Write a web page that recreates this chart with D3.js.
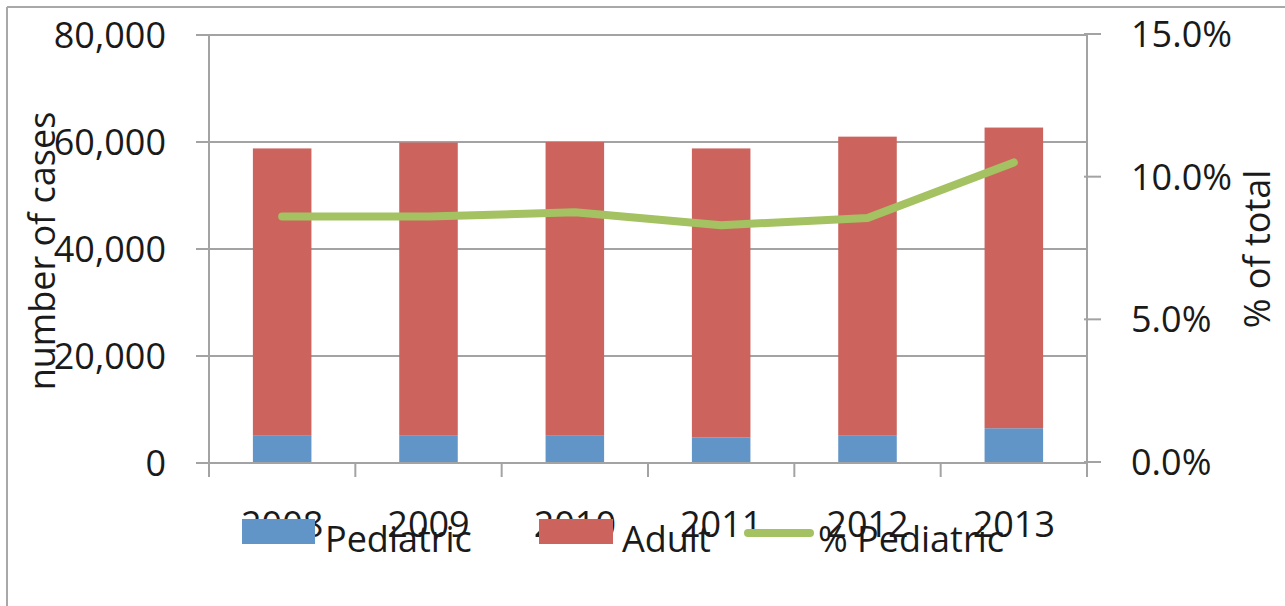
<!DOCTYPE html>
<html>
<head>
<meta charset="utf-8">
<script src="https://cdn.jsdelivr.net/npm/d3@7"></script>
<style>
  html, body { margin: 0; padding: 0; background: #fff; }
  svg { display: block; }
  text { font-family: "Open Sans", Lato, "DejaVu Sans", sans-serif; fill: #1a1a1a; }
</style>
</head>
<body>
<svg id="chart" width="1285" height="606"></svg>
<script>
// Case counts by year, split into pediatric and adult, plus pediatric share.
const years = ["2008", "2009", "2010", "2011", "2012", "2013"];
const pediatric = [5200, 5200, 5200, 4800, 5200, 6500];
const adult = [53600, 54700, 54800, 54000, 55800, 56200];
const pctPediatric = [8.6, 8.6, 8.75, 8.3, 8.55, 10.5];
const countTicks = [0, 20000, 40000, 60000, 80000];
const pctTicks = [0, 5, 10, 15];
const seriesNames = ["Pediatric", "Adult", "% Pediatric"];

const colors = { ped: "#6195C8", adult: "#CC645D", pct: "#A4C262", grid: "#a3a3a3" };
const fontSize = 36;

const svg = d3.select("#chart");

// frame lines along the top and left edge
svg.append("line").attr("x1", 7).attr("x2", 1285).attr("y1", 7).attr("y2", 7)
  .attr("stroke", "#a8a8a8").attr("stroke-width", 2);
svg.append("line").attr("x1", 7).attr("x2", 7).attr("y1", 7).attr("y2", 606)
  .attr("stroke", "#a8a8a8").attr("stroke-width", 2);

const plot = { left: 209, right: 1087, top: 35, bottom: 463 };

const x = d3.scaleBand().domain(years).range([plot.left, plot.right]).paddingInner(0).paddingOuter(0);
const yCount = d3.scaleLinear().domain([0, 80000]).range([plot.bottom, plot.top]);
const yPct = d3.scaleLinear().domain([0, 15]).range([plot.bottom - 1, plot.top - 1]);

const fmtCount = d3.format(",");
const fmtPct = d => d.toFixed(1) + "%";

// horizontal gridlines with outward tick stubs
svg.append("g").selectAll("line").data(countTicks).join("line")
  .attr("x1", plot.left - 13).attr("x2", plot.right)
  .attr("y1", d => yCount(d)).attr("y2", d => yCount(d))
  .attr("stroke", colors.grid).attr("stroke-width", 2);

// left axis labels
svg.append("g").selectAll("text").data(countTicks).join("text")
  .attr("x", 166).attr("y", d => yCount(d))
  .attr("dy", "0.36em").attr("text-anchor", "end")
  .attr("font-size", fontSize).text(d => fmtCount(d));

// left axis line
svg.append("line").attr("x1", plot.left).attr("x2", plot.left)
  .attr("y1", plot.top).attr("y2", plot.bottom + 14)
  .attr("stroke", colors.grid).attr("stroke-width", 2);

// right axis line and ticks
svg.append("line").attr("x1", plot.right).attr("x2", plot.right)
  .attr("y1", yPct(15)).attr("y2", plot.bottom + 14)
  .attr("stroke", colors.grid).attr("stroke-width", 2);
svg.append("g").selectAll("line").data(pctTicks).join("line")
  .attr("x1", plot.right - 3).attr("x2", plot.right + 14)
  .attr("y1", d => yPct(d)).attr("y2", d => yPct(d))
  .attr("stroke", colors.grid).attr("stroke-width", 2);
svg.append("g").selectAll("text").data(pctTicks).join("text")
  .attr("x", 1131).attr("y", d => yPct(d))
  .attr("dy", "0.36em").attr("text-anchor", "start")
  .attr("font-size", fontSize).text(d => fmtPct(d));

// category tick marks below the baseline
const bounds = years.map(d => x(d)).concat([plot.right]);
svg.append("g").selectAll("line").data(bounds).join("line")
  .attr("x1", d => d).attr("x2", d => d)
  .attr("y1", plot.bottom).attr("y2", plot.bottom + 14)
  .attr("stroke", colors.grid).attr("stroke-width", 2);

// stacked bars
const barW = x.bandwidth() * 0.4;
const bars = svg.append("g");
years.forEach((yr, i) => {
  const cx = x(yr) + x.bandwidth() / 2;
  bars.append("rect")
    .attr("x", cx - barW / 2).attr("width", barW)
    .attr("y", yCount(pediatric[i])).attr("height", yCount(0) - yCount(pediatric[i]))
    .attr("fill", colors.ped);
  bars.append("rect")
    .attr("x", cx - barW / 2).attr("width", barW)
    .attr("y", yCount(pediatric[i] + adult[i]))
    .attr("height", yCount(pediatric[i]) - yCount(pediatric[i] + adult[i]))
    .attr("fill", colors.adult);
});

// baseline over the bars
svg.append("line").attr("x1", plot.left).attr("x2", plot.right)
  .attr("y1", plot.bottom).attr("y2", plot.bottom)
  .attr("stroke", colors.grid).attr("stroke-width", 2);

// pediatric share line
const line = d3.line()
  .x((d, i) => x(years[i]) + x.bandwidth() / 2)
  .y(d => yPct(d));
svg.append("path").datum(pctPediatric)
  .attr("d", line).attr("fill", "none")
  .attr("stroke", colors.pct).attr("stroke-width", 8)
  .attr("stroke-linecap", "round").attr("stroke-linejoin", "round");

// category labels
svg.append("g").selectAll("text").data(years).join("text")
  .attr("x", d => x(d) + x.bandwidth() / 2).attr("y", 537)
  .attr("text-anchor", "middle").attr("font-size", fontSize).text(d => d);

// axis titles
svg.append("text")
  .attr("transform", "translate(55,251) rotate(-90)")
  .attr("text-anchor", "middle").attr("font-size", fontSize).text("number of cases");
svg.append("text")
  .attr("transform", "translate(1270,249) rotate(-90)")
  .attr("text-anchor", "middle").attr("font-size", fontSize).text("% of total");

// legend
const legend = svg.append("g");
legend.append("rect").attr("x", 242).attr("y", 519).attr("width", 73).attr("height", 25).attr("fill", colors.ped);
legend.append("text").attr("x", 325).attr("y", 552).attr("font-size", fontSize).text(seriesNames[0]);
legend.append("rect").attr("x", 539).attr("y", 519).attr("width", 74).attr("height", 25).attr("fill", colors.adult);
legend.append("text").attr("x", 622).attr("y", 552).attr("font-size", fontSize).text(seriesNames[1]);
legend.append("line").attr("x1", 748).attr("x2", 810).attr("y1", 533).attr("y2", 533)
  .attr("stroke", colors.pct).attr("stroke-width", 8).attr("stroke-linecap", "round");
legend.append("text").attr("x", 818).attr("y", 552).attr("font-size", fontSize).text(seriesNames[2]);
</script>
</body>
</html>
